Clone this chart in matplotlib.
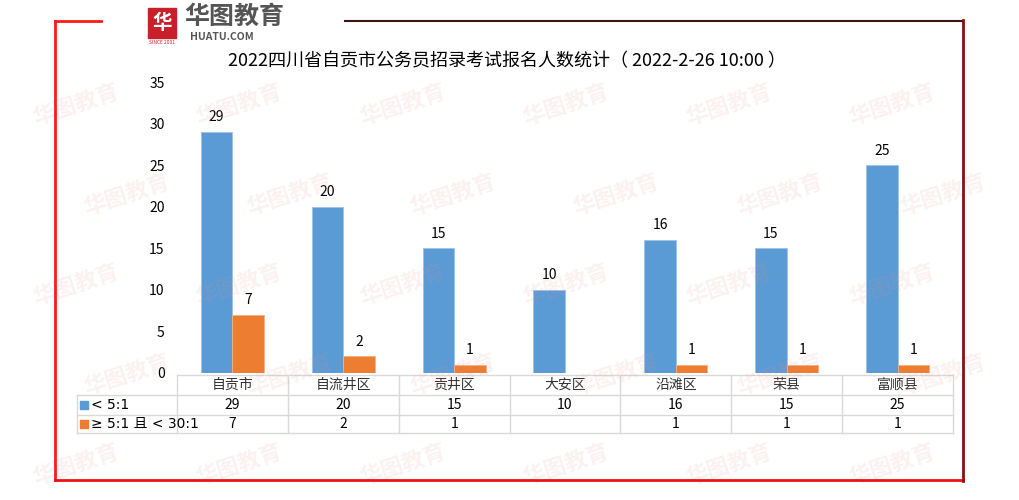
import matplotlib.pyplot as plt
from matplotlib.lines import Line2D
from matplotlib.patches import Rectangle
import matplotlib.transforms as mtransforms

plt.rcParams['font.family'] = ['Noto Sans CJK SC', 'DejaVu Sans']

# data
districts = ['自贡市', '自流井区', '贡井区', '大安区', '沿滩区', '荣县', '富顺县']
low = [29, 20, 15, 10, 16, 15, 25]
mid = [7, 2, 1, None, 1, 1, 1]
series_names = ['< 5:1', '≥ 5:1 且 < 30:1']
title = '2022四川省自贡市公务员招录考试报名人数统计（ 2022-2-26 10:00 ）'

blue, orange = '#5B9BD5', '#ED7D31'
W, H = 1019, 500
fig = plt.figure(figsize=(W / 100, H / 100), dpi=100)

# faint watermark tiles
for row in range(5):
    for col in range(6):
        x = 0.03 + col * 0.16 + (row % 2) * 0.05
        y = 0.03 + row * 0.18
        fig.text(x, y, '华图教育', color='#e58c8c', alpha=0.12, fontsize=16,
                 rotation=18, fontweight='bold', zorder=0)

# frame around the chart
def fl(x0, y0, x1, y1, c, lw=2):
    fig.add_artist(Line2D([x0 / W, x1 / W], [1 - y0 / H, 1 - y1 / H], color=c, lw=lw))
fl(55, 21, 55, 480, '#ff1a1a')
fl(55, 480, 963, 480, '#ee1111')
fl(55, 21, 101, 21, '#ff1a1a')
fl(345, 21, 963, 21, '#3a1414', 1.5)
fl(963, 20, 963, 481, '#8b0f0f')

# logo
fig.add_artist(Rectangle((148 / W, 1 - 38 / H), 28 / W, 30 / H, color='#c8202a'))
fig.text(162 / W, 1 - 23 / H, '华', color='white', fontsize=14, ha='center', va='center',
         fontweight='bold')
fig.text(162 / W, 1 - 42 / H, 'SINCE 2001', color='#c8202a', fontsize=3.5, ha='center', va='center')
fig.text(184 / W, 1 - 17 / H, '华图教育', color='#555555', fontsize=18, ha='left', va='center',
         fontweight='bold')
fig.text(190 / W, 1 - 37 / H, 'HUATU.COM', color='#555555', fontsize=7.5, ha='left', va='center',
         fontweight='bold')

fig.text(507 / W, 1 - 61 / H, title, fontsize=13, ha='center', va='center', color='#000000')

ax = fig.add_axes([177 / W, 1 - 373 / H, (953 - 177) / W, (373 - 82) / H])
ax.patch.set_alpha(0)
x = list(range(len(districts)))
bw = 0.285
ax.bar([i - bw / 2 for i in x], low, bw, color=blue, edgecolor='#9cc3e8', lw=0.6)
mid_x = [i + bw / 2 for i, v in zip(x, mid) if v is not None]
mid_v = [v for v in mid if v is not None]
ax.bar(mid_x, mid_v, bw, color=orange, edgecolor='#f5b183', lw=0.6)
for i, v in zip(x, low):
    ax.text(i - bw / 2, v + 0.9, str(v), ha='center', va='bottom', fontsize=10)
for xi, v in zip(mid_x, mid_v):
    ax.text(xi, v + 0.9, str(v), ha='center', va='bottom', fontsize=10)

ax.set_xlim(-0.5, len(districts) - 0.5)
ax.set_ylim(0, 35)
ax.set_yticks(range(0, 36, 5))
ax.tick_params(axis='y', length=0, labelsize=10, pad=9)
ax.set_xticks([])
for s in ax.spines.values():
    s.set_visible(False)

# data table below the axis
tr = mtransforms.blended_transform_factory(ax.transData, ax.transAxes)
gc = '#d9d9d9'
y_rows = [-0.007, -0.076, -0.144, -0.206]
x_left = -1.4
x_right = len(districts) - 0.5
def tl(xs, ys):
    ax.add_line(Line2D(xs, ys, transform=tr, color=gc, lw=1, clip_on=False))
tl([-0.5, x_right], [y_rows[0]] * 2)
for yr in y_rows[1:]:
    tl([x_left, x_right], [yr] * 2)
tl([x_left, x_left], [y_rows[1], y_rows[3]])
for k in range(len(districts) + 1):
    tl([k - 0.5] * 2, [y_rows[0], y_rows[3]])

yc = [(y_rows[j] + y_rows[j + 1]) / 2 for j in range(3)]
for i, name in enumerate(districts):
    ax.text(i, yc[0], name, transform=tr, ha='center', va='center', fontsize=10, color='#333333')
    ax.text(i, yc[1], str(low[i]), transform=tr, ha='center', va='center', fontsize=10)
    if mid[i] is not None:
        ax.text(i, yc[2], str(mid[i]), transform=tr, ha='center', va='center', fontsize=10)
for j, (nm, c) in enumerate(zip(series_names, [blue, orange])):
    ax.scatter([x_left + 0.06], [yc[j + 1]], transform=tr, marker='s', s=30, color=c, clip_on=False)
    ax.text(x_left + 0.12, yc[j + 1], nm, transform=tr, ha='left', va='center', fontsize=10,
            family=['DejaVu Sans', 'Noto Sans CJK SC'])

fig.savefig('out.png', dpi=100)
